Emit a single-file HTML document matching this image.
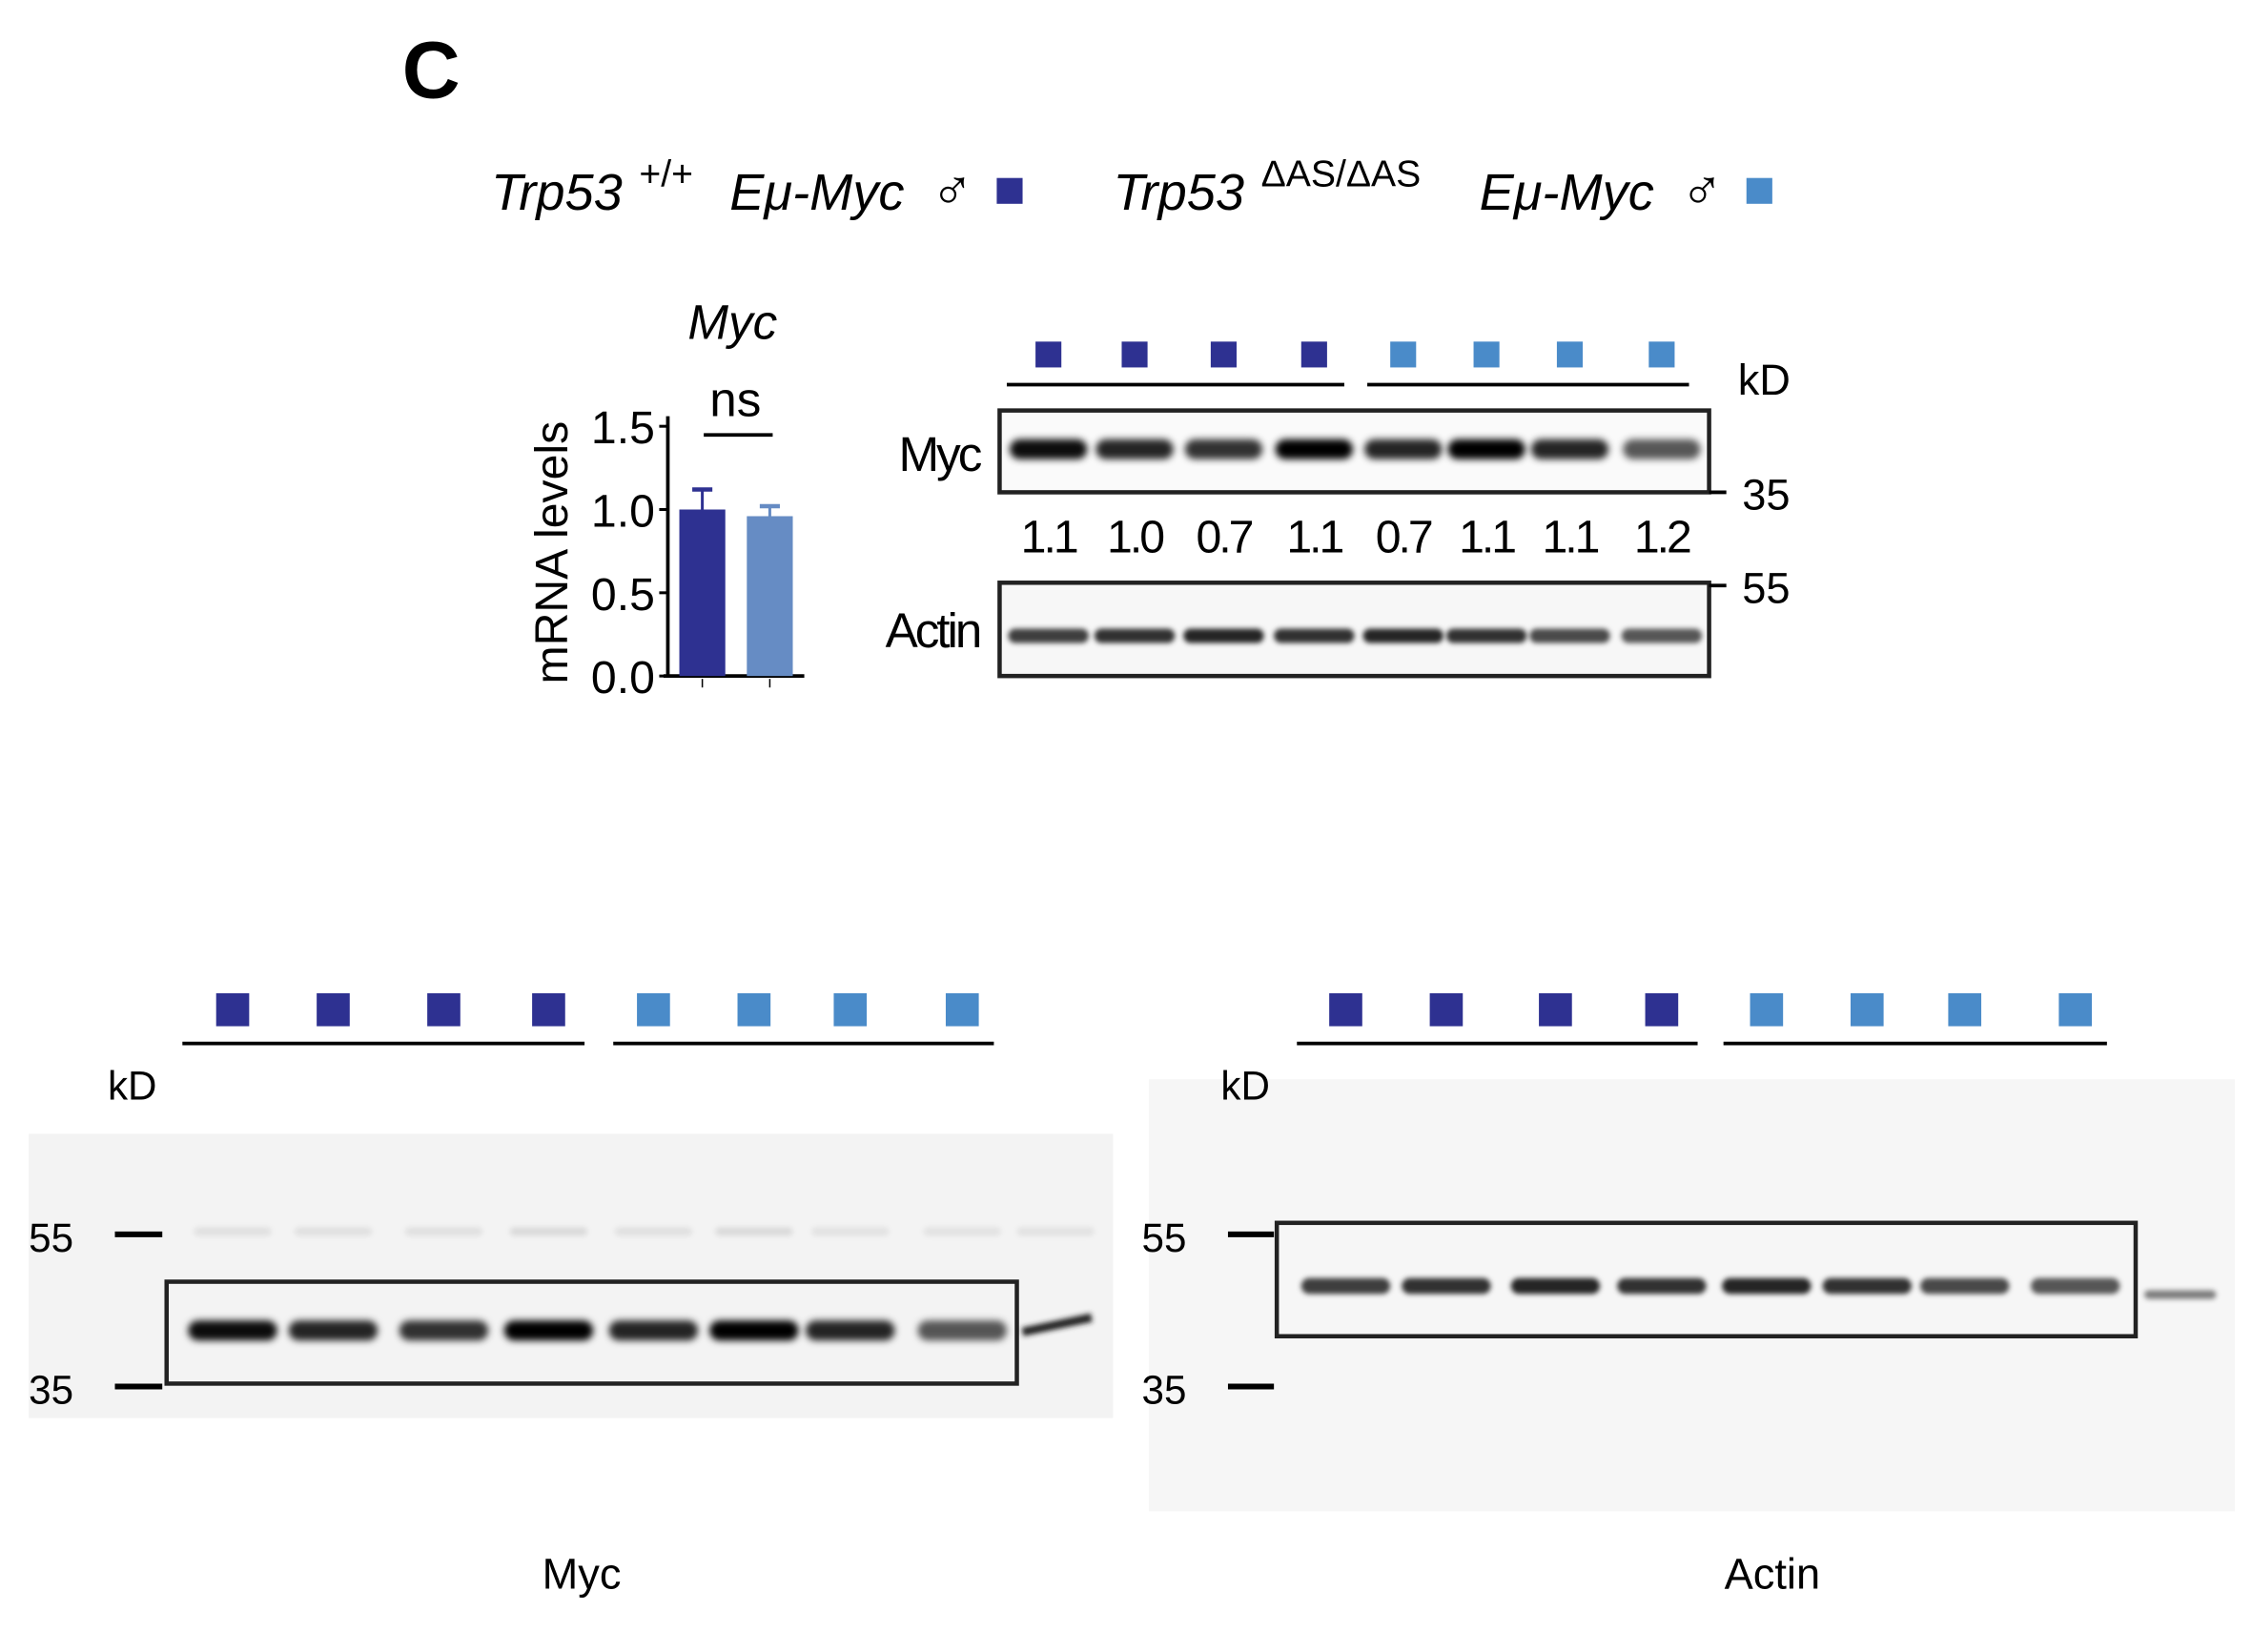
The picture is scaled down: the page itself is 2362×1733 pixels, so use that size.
<!DOCTYPE html>
<html><head><meta charset="utf-8"><style>
html,body{margin:0;padding:0;background:#fff}
svg{display:block}
text{font-family:"Liberation Sans",sans-serif}
</style></head><body>
<svg width="2362" height="1733" viewBox="0 0 1568 1151" preserveAspectRatio="none" xmlns="http://www.w3.org/2000/svg">
<defs>
<filter id="b1" x="-20%" y="-100%" width="140%" height="300%"><feGaussianBlur stdDeviation="2.4"/></filter>
<filter id="b2" x="-20%" y="-100%" width="140%" height="300%"><feGaussianBlur stdDeviation="1.8"/></filter>
</defs>
<text x="280" y="68" font-size="56" font-weight="bold">C</text>
<g font-size="36" font-style="italic">
<text x="342" y="146">Trp53</text><text x="445" y="130" font-size="26" font-style="normal">+/+</text>
<text x="508" y="146">Eμ-Myc</text><text x="648" y="146" font-size="40" font-style="normal">♂</text>
<rect x="694" y="124" width="18" height="18" fill="#2e3191"/>
<text x="775" y="146">Trp53</text><text x="878" y="130" font-size="26" font-style="normal">ΔAS/ΔAS</text>
<text x="1030" y="146">Eμ-Myc</text><text x="1170" y="146" font-size="40" font-style="normal">♂</text>
<rect x="1216" y="124" width="18" height="18" fill="#4a8bc9"/>
</g>
<g id="barchart"></g>
<g id="blots"></g>
<text x="405" y="1107" font-size="30" text-anchor="middle">Myc</text>
<text x="1234" y="1107" font-size="30" text-anchor="middle">Actin</text>
</svg>
<script>
const NS="http://www.w3.org/2000/svg";
const groups=["WT","ΔAS"];
const means=[1.0,0.96];
const errs=[0.12,0.06];
const yTicks=[0.0,0.5,1.0,1.5];
const quant=["1.1","1.0","0.7","1.1","0.7","1.1","1.1","1.2"];
const mycIntensity=[0.95,0.85,0.8,1.0,0.85,1.0,0.85,0.65];
const actinIntensity=[0.75,0.8,0.85,0.8,0.85,0.8,0.7,0.65];
function el(t,a,p){const e=document.createElementNS(NS,t);for(const k in a)e.setAttribute(k,a[k]);p.appendChild(e);return e;}
function txt(t,a,p,s){const e=el(t,a,p);e.textContent=s;return e;}
const bc=document.getElementById('barchart');
const yS=v=>471-v*(471-297)/1.5;
const xC=[489,536], bw=32, cols=["#2e3191","#668cc4"];
txt('text',{x:510,y:236,'font-size':34,'font-style':'italic','text-anchor':'middle'},bc,'Myc');
const ya=el('line',{x1:465,y1:290,x2:465,y2:471,stroke:'#000','stroke-width':2.5},bc);


el('line',{x1:462,y1:471,x2:560,y2:471,stroke:'#000','stroke-width':2.5},bc);
yTicks.forEach(v=>{el('line',{x1:459,y1:yS(v),x2:465,y2:yS(v),stroke:'#000','stroke-width':2},bc);
const t=txt('text',{x:456,y:yS(v)+12,'font-size':32,'text-anchor':'end'},bc,v.toFixed(1));

});
const yt=txt('text',{x:0,y:0,'font-size':32,'text-anchor':'middle',transform:'translate(395,385) rotate(-90)'},bc,'mRNA levels');


means.forEach((m,i)=>{
const r=el('rect',{x:xC[i]-bw/2,y:yS(m),width:bw,height:471-yS(m),fill:cols[i]},bc);


el('line',{x1:xC[i],y1:yS(m),x2:xC[i],y2:yS(m+errs[i]),stroke:cols[i],'stroke-width':2},bc);
el('line',{x1:xC[i]-7,y1:yS(m+errs[i]),x2:xC[i]+7,y2:yS(m+errs[i]),stroke:cols[i],'stroke-width':3},bc);
el('line',{x1:xC[i],y1:473,x2:xC[i],y2:479,stroke:'#000','stroke-width':1},bc);});
txt('text',{x:512,y:290,'font-size':34,'text-anchor':'middle'},bc,'ns');
el('line',{x1:490,y1:303,x2:538,y2:303,stroke:'#000','stroke-width':2.5},bc);
const bl=document.getElementById('blots');
function squares(xs,y,s){xs.forEach((x,i)=>{const r=el('rect',{x:x-s/2,y:y,width:s,height:s,fill:i<4?'#2e3191':'#4a8bc9'},bl);

});}
function bands(xs,y,w,h,ints,filt){xs.forEach((x,i)=>{const b=el('rect',{x:x-w/2,y:y-h/2,width:w,height:h,rx:h/2,fill:'#000','fill-opacity':ints[i],filter:'url(#'+filt+')'},bl);

});}
const tx=[730,790,852,915,977,1035,1093,1157];
squares(tx,238,18);
el('line',{x1:701,y1:268,x2:936,y2:268,stroke:'#000','stroke-width':2.5},bl);
el('line',{x1:952,y1:268,x2:1176,y2:268,stroke:'#000','stroke-width':2.5},bl);
txt('text',{x:1210,y:275,'font-size':30},bl,'kD');
el('rect',{x:696,y:286,width:494,height:57,fill:'#fafafa',stroke:'#222','stroke-width':3},bl);
bands(tx,313,54,14,mycIntensity,'b1');
txt('text',{x:682,y:328,'font-size':34,'text-anchor':'end','letter-spacing':-2},bl,'Myc');
el('line',{x1:1190,y1:343,x2:1202,y2:343,stroke:'#000','stroke-width':2.5},bl);
txt('text',{x:1213,y:355,'font-size':30},bl,'35');
quant.forEach((q,i)=>{const t=txt('text',{x:tx[i],y:385,'font-size':32,'text-anchor':'middle','letter-spacing':-2},bl,q);

});
el('rect',{x:696,y:406,width:494,height:65,fill:'#f7f7f7',stroke:'#222','stroke-width':3},bl);
bands(tx,443,56,10,actinIntensity,'b2');
txt('text',{x:682,y:451,'font-size':34,'text-anchor':'end','letter-spacing':-2},bl,'Actin');
el('line',{x1:1190,y1:408,x2:1202,y2:408,stroke:'#000','stroke-width':2.5},bl);
txt('text',{x:1213,y:420,'font-size':30},bl,'55');
const lx=[162,232,309,382,455,525,592,670];
squares(lx,692,23);
el('line',{x1:127,y1:727,x2:407,y2:727,stroke:'#000','stroke-width':2.5},bl);
el('line',{x1:427,y1:727,x2:692,y2:727,stroke:'#000','stroke-width':2.5},bl);
txt('text',{x:75,y:766,'font-size':28},bl,'kD');
el('rect',{x:20,y:790,width:755,height:198,fill:'#f3f3f3'},bl);
bands(lx.concat([735]),858,54,6,[.08,.08,.08,.1,.08,.1,.07,.07,.07],'b2');
el('rect',{x:116,y:893,width:592,height:71,fill:'none',stroke:'#222','stroke-width':3},bl);
bands(lx,927,62,14,mycIntensity,'b1');
el('line',{x1:712,y1:928,x2:760,y2:918,stroke:'#222','stroke-width':6,filter:'url(#b2)'},bl);
el('line',{x1:80,y1:860,x2:113,y2:860,stroke:'#000','stroke-width':4},bl);
el('line',{x1:80,y1:966,x2:113,y2:966,stroke:'#000','stroke-width':4},bl);
txt('text',{x:20,y:872,'font-size':28},bl,'55');
txt('text',{x:20,y:978,'font-size':28},bl,'35');
const rx=[937,1007,1083,1157,1230,1300,1368,1445];
squares(rx,692,23);
el('line',{x1:903,y1:727,x2:1182,y2:727,stroke:'#000','stroke-width':2.5},bl);
el('line',{x1:1200,y1:727,x2:1467,y2:727,stroke:'#000','stroke-width':2.5},bl);
el('rect',{x:800,y:752,width:756,height:301,fill:'#f6f6f6'},bl);
txt('text',{x:850,y:766,'font-size':28},bl,'kD');
el('rect',{x:889,y:852,width:598,height:79,fill:'none',stroke:'#222','stroke-width':3},bl);
bands(rx,896,62,11,actinIntensity,'b2');
bands([1518],902,50,6,[0.5],'b2');
el('line',{x1:855,y1:860,x2:887,y2:860,stroke:'#000','stroke-width':4},bl);
el('line',{x1:855,y1:966,x2:887,y2:966,stroke:'#000','stroke-width':4},bl);
txt('text',{x:795,y:872,'font-size':28},bl,'55');
txt('text',{x:795,y:978,'font-size':28},bl,'35');
</script>
</body></html>
